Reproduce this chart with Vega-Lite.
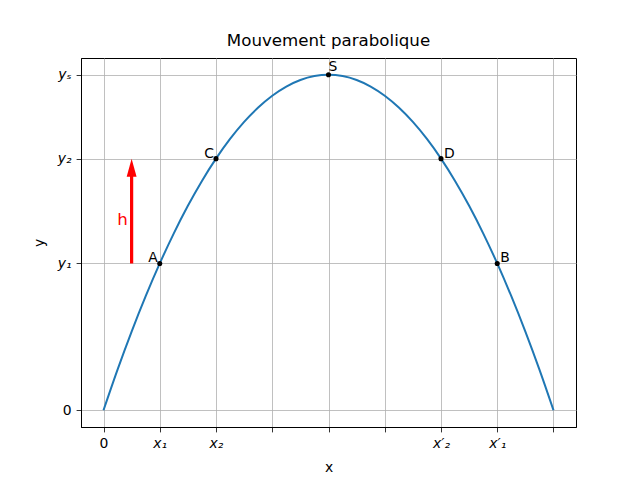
{
  "$schema": "https://vega.github.io/schema/vega-lite/v6.json",
  "width": 495,
  "height": 369,
  "autosize": {"type": "none"},
  "padding": {"left": 81, "top": 58, "right": 64, "bottom": 53},
  "background": "white",
  "title": {"text": "Mouvement parabolique", "font": "DejaVu Sans", "fontSize": 16.67, "fontWeight": "normal", "color": "black", "offset": 8},
  "config": {
    "view": {"stroke": "black", "strokeWidth": 1},
    "font": "DejaVu Sans",
    "axis": {
      "domainColor": "black",
      "domainWidth": 1,
      "tickColor": "black",
      "tickSize": 4.9,
      "tickWidth": 0.8,
      "labelColor": "black",
      "labelFontSize": 13.9,
      "labelFont": "DejaVu Sans",
      "labelPadding": 5,
      "titleFont": "DejaVu Sans",
      "titleFontSize": 13.9,
      "titleFontWeight": "normal",
      "titleColor": "black",
      "grid": true,
      "gridColor": "#b0b0b0",
      "gridWidth": 0.8
    }
  },
  "datasets": {
    "curve": [
      {"x": 0, "y": 0}, {"x": 0.25, "y": 1.9375}, {"x": 0.5, "y": 3.75}, {"x": 0.75, "y": 5.4375},
      {"x": 1, "y": 7}, {"x": 1.25, "y": 8.4375}, {"x": 1.5, "y": 9.75}, {"x": 1.75, "y": 10.9375},
      {"x": 2, "y": 12}, {"x": 2.25, "y": 12.9375}, {"x": 2.5, "y": 13.75}, {"x": 2.75, "y": 14.4375},
      {"x": 3, "y": 15}, {"x": 3.25, "y": 15.4375}, {"x": 3.5, "y": 15.75}, {"x": 3.75, "y": 15.9375},
      {"x": 4, "y": 16}, {"x": 4.25, "y": 15.9375}, {"x": 4.5, "y": 15.75}, {"x": 4.75, "y": 15.4375},
      {"x": 5, "y": 15}, {"x": 5.25, "y": 14.4375}, {"x": 5.5, "y": 13.75}, {"x": 5.75, "y": 12.9375},
      {"x": 6, "y": 12}, {"x": 6.25, "y": 10.9375}, {"x": 6.5, "y": 9.75}, {"x": 6.75, "y": 8.4375},
      {"x": 7, "y": 7}, {"x": 7.25, "y": 5.4375}, {"x": 7.5, "y": 3.75}, {"x": 7.75, "y": 1.9375},
      {"x": 8, "y": 0}
    ],
    "points": [
      {"x": 1, "y": 7, "label": "A", "side": "left"},
      {"x": 2, "y": 12, "label": "C", "side": "left"},
      {"x": 4, "y": 16, "label": "S", "side": "top"},
      {"x": 6, "y": 12, "label": "D", "side": "right"},
      {"x": 7, "y": 7, "label": "B", "side": "right"}
    ],
    "arrow": [
      {"x": 0.5, "y": 7, "y2": 11.2}
    ],
    "arrowhead": [
      {"x": 0.5, "y": 11.57}
    ],
    "hlabel": [
      {"x": 0.34, "y": 9.05, "label": "h"}
    ]
  },
  "layer": [
    {
      "data": {"name": "curve"},
      "mark": {"type": "line", "color": "#1f77b4", "strokeWidth": 2, "interpolate": "monotone"},
      "encoding": {
        "x": {
          "field": "x", "type": "quantitative",
          "scale": {"domain": [-0.4, 8.4], "nice": false, "zero": false},
          "axis": {
            "title": "x",
            "values": [0, 1, 2, 3, 4, 5, 6, 7, 8],
            "labelExpr": "datum.value == 0 ? '0' : datum.value == 1 ? 'x₁' : datum.value == 2 ? 'x₂' : datum.value == 6 ? 'x′₂' : datum.value == 7 ? 'x′₁' : ''",
            "labelFontStyle": {"condition": {"test": "datum.value == 0", "value": "normal"}, "value": "italic"},
            "labelFlush": false,
            "labelOverlap": false,
            "titlePadding": 10
          }
        },
        "y": {
          "field": "y", "type": "quantitative",
          "scale": {"domain": [-0.8, 16.8], "nice": false, "zero": false},
          "axis": {
            "title": "y",
            "values": [0, 7, 12, 16],
            "labelExpr": "datum.value == 0 ? '0' : datum.value == 7 ? 'y₁' : datum.value == 12 ? 'y₂' : 'yₛ'",
            "labelFontStyle": {"condition": {"test": "datum.value == 0", "value": "normal"}, "value": "italic"},
            "labelFlush": false,
            "labelOverlap": false,
            "titlePadding": 11
          }
        }
      }
    },
    {
      "data": {"name": "points"},
      "mark": {"type": "point", "filled": true, "color": "black", "size": 26, "opacity": 1},
      "encoding": {
        "x": {"field": "x", "type": "quantitative"},
        "y": {"field": "y", "type": "quantitative"}
      }
    },
    {
      "data": {"name": "points"},
      "transform": [{"filter": "datum.side == 'left'"}],
      "mark": {"type": "text", "align": "right", "baseline": "alphabetic", "dx": -2, "dy": -1, "fontSize": 13.9, "color": "black", "font": "DejaVu Sans"},
      "encoding": {
        "x": {"field": "x", "type": "quantitative"},
        "y": {"field": "y", "type": "quantitative"},
        "text": {"field": "label"}
      }
    },
    {
      "data": {"name": "points"},
      "transform": [{"filter": "datum.side == 'right'"}],
      "mark": {"type": "text", "align": "left", "baseline": "alphabetic", "dx": 3, "dy": -1, "fontSize": 13.9, "color": "black", "font": "DejaVu Sans"},
      "encoding": {
        "x": {"field": "x", "type": "quantitative"},
        "y": {"field": "y", "type": "quantitative"},
        "text": {"field": "label"}
      }
    },
    {
      "data": {"name": "points"},
      "transform": [{"filter": "datum.side == 'top'"}],
      "mark": {"type": "text", "align": "left", "baseline": "alphabetic", "dx": 0, "dy": -4, "fontSize": 13.9, "color": "black", "font": "DejaVu Sans"},
      "encoding": {
        "x": {"field": "x", "type": "quantitative"},
        "y": {"field": "y", "type": "quantitative"},
        "text": {"field": "label"}
      }
    },
    {
      "data": {"name": "arrow"},
      "mark": {"type": "rule", "color": "red", "strokeWidth": 3.2},
      "encoding": {
        "x": {"field": "x", "type": "quantitative"},
        "y": {"field": "y", "type": "quantitative"},
        "y2": {"field": "y2"}
      }
    },
    {
      "data": {"name": "arrowhead"},
      "mark": {"type": "point", "filled": true, "color": "red", "opacity": 1, "size": 324, "shape": "M-0.55,1 L0,-1 L0.55,1 Z", "strokeWidth": 0},
      "encoding": {
        "x": {"field": "x", "type": "quantitative"},
        "y": {"field": "y", "type": "quantitative"}
      }
    },
    {
      "data": {"name": "hlabel"},
      "mark": {"type": "text", "align": "center", "baseline": "middle", "fontSize": 16.67, "color": "red", "font": "DejaVu Sans"},
      "encoding": {
        "x": {"field": "x", "type": "quantitative"},
        "y": {"field": "y", "type": "quantitative"},
        "text": {"field": "label"}
      }
    }
  ]
}
